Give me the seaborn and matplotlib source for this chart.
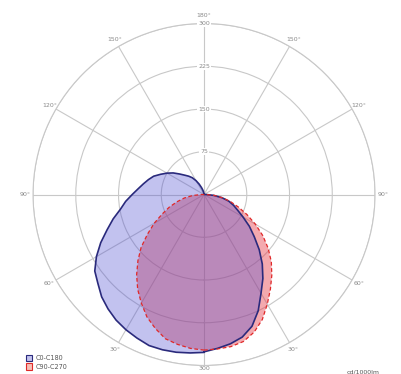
import numpy as np
import pandas as pd
import matplotlib
matplotlib.use("Agg")
import matplotlib.pyplot as plt
import seaborn as sns
from matplotlib.patches import Patch

# gamma angles (deg from nadir) and intensities (cd/1000lm)
gamma = [0, 5, 10, 15, 20, 25, 30, 35, 40, 45, 50, 55, 60, 65, 70, 75, 80, 85, 90,
         95, 100, 105, 110, 115, 120, 125, 130, 135, 140, 145, 150, 155, 160, 165, 170, 175, 180]

c0 = [276, 271, 266, 259, 246, 225, 200, 180, 159, 137, 115, 97, 79, 65, 55, 45, 32, 17, 4,
      0, 0, 0, 0, 0, 0, 0, 0, 0, 0, 0, 0, 0, 0, 0, 0, 0, 0]
c180 = [277, 279, 281, 282, 282, 278, 274, 269, 262, 254, 243, 234, 218, 200, 181, 165, 149, 138, 126,
        116, 108, 101, 94, 84, 75, 66, 56, 48, 42, 36, 28, 20, 13, 8, 4, 1, 0]
c90 = [273, 271, 267, 262, 250, 237, 220, 203, 184, 164, 144, 121, 101, 81, 65, 49, 35, 20, 5,
       0, 0, 0, 0, 0, 0, 0, 0, 0, 0, 0, 0, 0, 0, 0, 0, 0, 0]
c270 = [273, 272, 271, 267, 257, 242, 222, 203, 185, 167, 147, 126, 104, 83, 64, 48, 33, 18, 4,
        0, 0, 0, 0, 0, 0, 0, 0, 0, 0, 0, 0, 0, 0, 0, 0, 0, 0]

ring_values = [75, 150, 225, 300]
angle_ticks = [0, 30, 60, 90, 120, 150, 180, 210, 240, 270, 300, 330]
angle_labels = ["", "30°", "60°", "90°", "120°", "150°", "180°", "150°", "120°", "90°", "60°", "30°"]
series_names = ["C0-C180", "C90-C270"]


def curve(right, left):
    """Join the right half-plane (0->180) and left half-plane (180->0) into one closed curve."""
    g = np.array(gamma, dtype=float)
    theta = np.concatenate([np.deg2rad(g), 2 * np.pi - np.deg2rad(g[::-1])])
    r = np.concatenate([np.array(right, float), np.array(left, float)[::-1]])
    return pd.DataFrame({"theta": theta, "r": r})


sns.set_style("white")
plt.rcParams["font.family"] = ["DejaVu Sans"]

fig = plt.figure(figsize=(4.01, 3.74), dpi=100)
ax = fig.add_axes([0.0823, 0.0227, 0.853, 0.9144], projection="polar")
ax.set_theta_zero_location("S")
ax.set_theta_direction(1)
ax.set_ylim(0, 300)

grid_col = "#c8c8c8"
ax.set_rgrids(ring_values, labels=[""] * 4)
ax.set_thetagrids(angle_ticks, labels=angle_labels)
ax.grid(True, color=grid_col, linewidth=0.8)
ax.spines["polar"].set_color(grid_col)
ax.spines["polar"].set_linewidth(0.8)
ax.tick_params(axis="x", labelsize=4.5, labelcolor="#8a8a8a", pad=-5)

# radial value labels along the vertical line
for v in ring_values:
    ax.text(np.pi, v, str(v), fontsize=4.5, color="#8a8a8a", ha="center", va="center",
            bbox=dict(boxstyle="square,pad=0.15", fc="white", ec="none"), zorder=5)
ax.text(0, 300, "300", fontsize=4.5, color="#8a8a8a", ha="center", va="top", zorder=5)

blue = curve(c0, c180)
red = curve(c270, c90)

ax.fill(red["theta"], red["r"], color="#e63240", alpha=0.42, lw=0, zorder=2)
ax.fill(blue["theta"], blue["r"], color="#5050d2", alpha=0.35, lw=0, zorder=3)
sns.lineplot(data=blue, x="theta", y="r", ax=ax, sort=False, color="#2a2a7c", lw=1.2, zorder=4)
sns.lineplot(data=red, x="theta", y="r", ax=ax, sort=False, color="#e02828", lw=0.9,
             linestyle=(0, (3, 2)), zorder=4)
ax.set_xlabel("")
ax.set_ylabel("")

handles = [Patch(facecolor="#c2c2ee", edgecolor="#2a2a7c", lw=0.8, label=series_names[0]),
           Patch(facecolor="#f6c0b8", edgecolor="#e02828", lw=0.8, label=series_names[1])]
fig.legend(handles=handles, loc="lower left", bbox_to_anchor=(0.05, -0.005), frameon=False,
           fontsize=4.7, handlelength=1.0, handleheight=1.2, labelspacing=0.3,
           handletextpad=0.5, labelcolor="#555555")
fig.text(0.865, 0.0, "cd/1000lm", fontsize=4.5, color="#555555", ha="left", va="bottom")

fig.savefig("out.png", dpi=100)
